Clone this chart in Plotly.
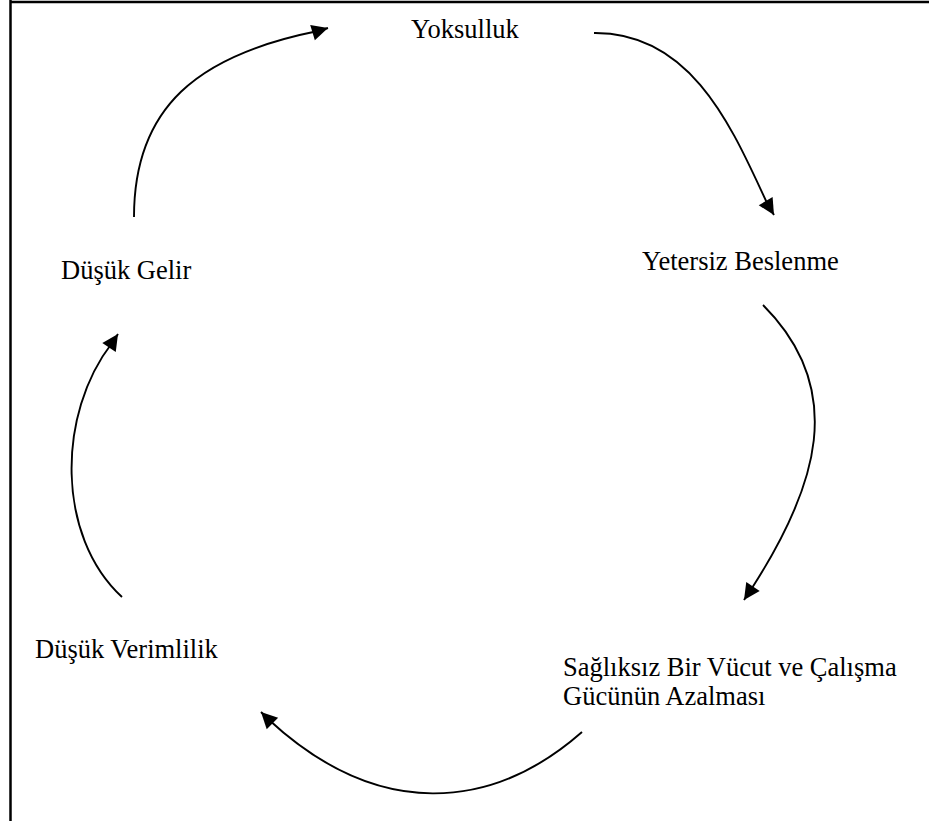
import plotly.graph_objects as go

# Node labels of the cycle diagram
labels = ["Yoksulluk", "Yetersiz Beslenme", "Sağlıksız Bir Vücut ve Çalışma",
          "Gücünün Azalması", "Düşük Verimlilik", "Düşük Gelir"]
label_x = [409, 640, 561, 561, 33, 59]
label_y = [29, 261, 667, 696, 649, 270]

# Curved connectors: start, two Bezier control points, end (pixel space, y downward)
arc_start_x = [134, 594, 763, 582, 122]
arc_start_y = [217, 33, 305, 732, 597]
arc_c1_x = [134, 694, 848, 492, 56]
arc_c1_y = [107, 32, 390, 811, 536]
arc_c2_x = [198, 734, 817, 378, 57]
arc_c2_y = [55, 133, 487, 821, 414]
arc_end_x = [318, 768, 752, 268, 112]
arc_end_y = [31, 205, 588, 719, 343]

# Arrow tips
tip_x = [328, 774, 744, 261, 118]
tip_y = [28, 215, 600, 712, 334]

W, H = 929, 821
fig = go.Figure()
fig.add_trace(go.Scatter(x=[0, W], y=[0, H], mode="markers",
                         marker=dict(opacity=0), hoverinfo="skip", showlegend=False))

shapes = []
annotations = []
for i in range(len(arc_start_x)):
    path = (f"M {arc_start_x[i]},{arc_start_y[i]} "
            f"C {arc_c1_x[i]},{arc_c1_y[i]} {arc_c2_x[i]},{arc_c2_y[i]} "
            f"{arc_end_x[i]},{arc_end_y[i]} L {tip_x[i]},{tip_y[i]}")
    shapes.append(dict(type="path", path=path, xref="x", yref="y",
                       line=dict(color="black", width=1.9), fillcolor="rgba(0,0,0,0)"))
    annotations.append(dict(x=tip_x[i], y=tip_y[i], ax=arc_end_x[i], ay=arc_end_y[i],
                            xref="x", yref="y", axref="x", ayref="y", text="",
                            showarrow=True, arrowhead=2, arrowsize=1.7, arrowwidth=1.9,
                            arrowcolor="black", standoff=0, startstandoff=0))

for t, xx, yy in zip(labels, label_x, label_y):
    annotations.append(dict(x=xx, y=yy, xref="x", yref="y", text=t, showarrow=False,
                            xanchor="left", yanchor="middle",
                            font=dict(family="Liberation Serif, Times New Roman, serif",
                                      size=26.5, color="black")))

shapes += [
    dict(type="line", x0=10.5, y0=2, x1=929, y1=2, xref="x", yref="y",
         line=dict(color="black", width=2.5)),
    dict(type="line", x0=10.5, y0=0, x1=10.5, y1=821, xref="x", yref="y",
         line=dict(color="black", width=2.5)),
]

fig.update_layout(
    width=W, height=H, autosize=False,
    margin=dict(l=0, r=0, t=0, b=0),
    paper_bgcolor="white", plot_bgcolor="white",
    xaxis=dict(range=[0, W], visible=False, fixedrange=True),
    yaxis=dict(range=[H, 0], visible=False, fixedrange=True),
    annotations=annotations, shapes=shapes, showlegend=False,
)
fig.write_html("out.html", config={"displayModeBar": False},
               post_script="document.body.style.margin='0';document.body.style.overflow='hidden';")
